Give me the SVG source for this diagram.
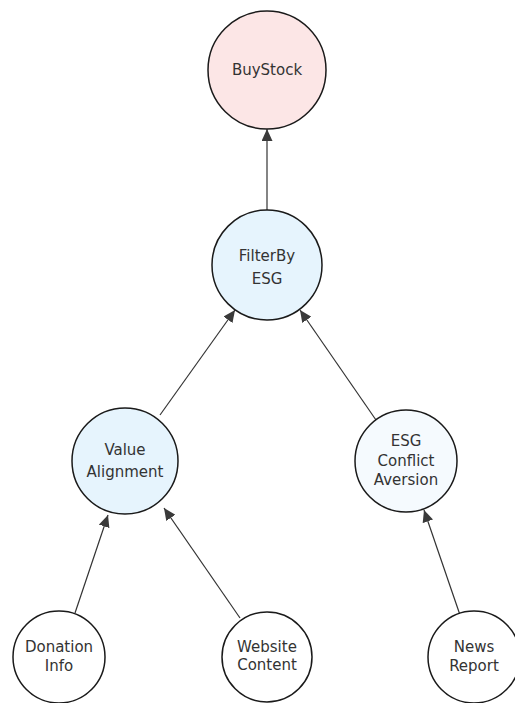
<svg xmlns="http://www.w3.org/2000/svg" width="515" height="703" viewBox="0 0 515 703">
<style>
.n{stroke:#1a1a1a;stroke-width:1.5}
.t{font-family:"DejaVu Sans",sans-serif;font-size:15px;fill:#333;text-anchor:middle;dominant-baseline:central}
.e{stroke:#333;stroke-width:1.2;fill:none;marker-end:url(#a)}
</style>
<defs>
<marker id="a" viewBox="0 0 12 11" refX="12" refY="5.5" markerWidth="12" markerHeight="11" markerUnits="userSpaceOnUse" orient="auto">
<path d="M0,0L12,5.5L0,11z" fill="#3a3a3a"/>
</marker>
</defs>
<rect width="515" height="703" fill="#fff"/>
<g id="edges">
<line class="e" x1="267" y1="210" x2="267" y2="129"/>
<line class="e" x1="160" y1="415" x2="235" y2="310"/>
<line class="e" x1="376" y1="420" x2="300" y2="310"/>
<line class="e" x1="75" y1="613" x2="108" y2="515"/>
<line class="e" x1="240" y1="618" x2="164" y2="508"/>
<line class="e" x1="460" y1="615" x2="424" y2="510"/>
</g>
<g id="BuyStock"><circle class="n" cx="267" cy="70" r="59" fill="#fce6e6"/><text class="t" x="267" y="70">BuyStock</text></g>
<g id="FilterByESG"><circle class="n" cx="267" cy="265" r="55" fill="#e6f4fd"/><text class="t" x="267" y="256">FilterBy</text><text class="t" x="267" y="279">ESG</text></g>
<g id="ValueAlignment"><circle class="n" cx="125" cy="461" r="53" fill="#e6f4fd"/><text class="t" x="125" y="450">Value</text><text class="t" x="125" y="472">Alignment</text></g>
<g id="ESGConflictAversion"><circle class="n" cx="406" cy="461" r="51" fill="#f5fafe"/><text class="t" x="406" y="441">ESG</text><text class="t" x="406" y="461">Conflict</text><text class="t" x="406" y="480">Aversion</text></g>
<g id="DonationInfo"><circle class="n" cx="59" cy="657" r="46" fill="#fff"/><text class="t" x="59" y="647">Donation</text><text class="t" x="59" y="666">Info</text></g>
<g id="WebsiteContent"><circle class="n" cx="267" cy="657" r="45" fill="#fff"/><text class="t" x="267" y="647">Website</text><text class="t" x="267" y="665">Content</text></g>
<g id="NewsReport"><circle class="n" cx="474" cy="657" r="46" fill="#fff"/><text class="t" x="474" y="647">News</text><text class="t" x="474" y="666">Report</text></g>
</svg>
